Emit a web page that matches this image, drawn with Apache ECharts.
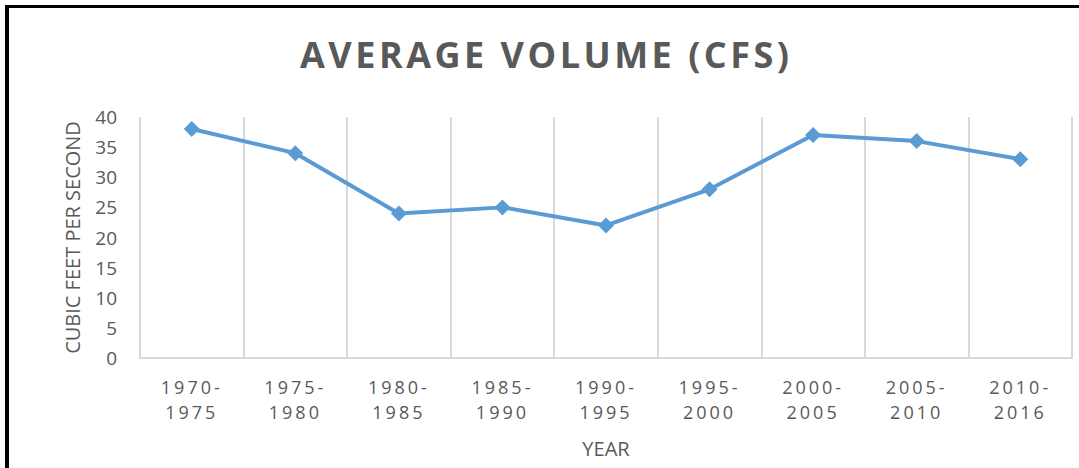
<!DOCTYPE html>
<html>
<head>
<meta charset="utf-8">
<title>Average Volume (CFS)</title>
<script src="https://cdn.jsdelivr.net/npm/echarts@6/dist/echarts.min.js"></script>
<style>
    html, body { margin: 0; padding: 0; background: #fff; }
    #chart { width: 1079px; height: 468px; }
    #frame {
        position: absolute; left: 5px; top: 5px; right: -10px; bottom: -10px;
        border-left: 4px solid #000; border-top: 3px solid #000;
        pointer-events: none;
    }
</style>
</head>
<body>
<div id="chart"></div>
<div id="frame"></div>
<script>
var periods = ['1970-\n1975', '1975-\n1980', '1980-\n1985', '1985-\n1990', '1990-\n1995',
               '1995-\n2000', '2000-\n2005', '2005-\n2010', '2010-\n2016'];
var avgVolume = [38, 34, 24, 25, 22, 28, 37, 36, 33];
var yTicks = [0, 5, 10, 15, 20, 25, 30, 35, 40];

var textColor = '#595959';
var myChart = echarts.init(document.getElementById('chart'), null, { renderer: 'svg' });

var option = {
    animation: false,
    title: {
        text: 'AVERAGE VOLUME (CFS)',
        left: 295,
        top: 31,
        textStyle: {
            fontFamily: 'Open Sans',
            fontWeight: 'bold',
            fontSize: 36,
            color: textColor
        }
    },
    grid: {
        left: 140,
        right: 7,
        top: 117,
        bottom: 110
    },
    xAxis: {
        type: 'category',
        data: periods,
        name: 'YEAR',
        nameLocation: 'middle',
        nameGap: 80,
        nameTextStyle: {
            fontFamily: 'Open Sans',
            fontSize: 20,
            color: textColor
        },
        axisLine: {
            lineStyle: { color: '#d9d9d9', width: 2 }
        },
        axisTick: { show: false },
        axisLabel: {
            margin: 16,
            fontFamily: 'Open Sans',
            fontSize: 18,
            lineHeight: 25,
            color: textColor
        },
        splitLine: {
            show: true,
            lineStyle: { color: '#d9d9d9', width: 2 }
        }
    },
    yAxis: {
        type: 'value',
        min: yTicks[0],
        max: yTicks[yTicks.length - 1],
        interval: yTicks[1] - yTicks[0],
        name: 'CUBIC FEET PER SECOND',
        nameLocation: 'middle',
        nameGap: 58,
        nameTextStyle: {
            fontFamily: 'Open Sans',
            fontSize: 20,
            color: textColor
        },
        axisLine: { show: false },
        axisTick: { show: false },
        splitLine: { show: false },
        axisLabel: {
            margin: 23,
            fontFamily: 'Open Sans',
            fontSize: 19,
            color: textColor
        }
    },
    series: [
        {
            type: 'line',
            data: avgVolume,
            symbol: 'diamond',
            symbolSize: 16,
            lineStyle: { color: '#5b9bd5', width: 4 },
            itemStyle: { color: '#5b9bd5' }
        }
    ]
};

myChart.setOption(option);

// spread the letters of the title and year labels like the original
function spreadLetters() {
    var texts = document.querySelectorAll('#chart text');
    for (var i = 0; i < texts.length; i++) {
        var t = texts[i].textContent;
        if (t === option.title.text) {
            texts[i].style.letterSpacing = '3.5px';
        } else if (/^\d{4}-?$/.test(t)) {
            texts[i].style.letterSpacing = '3px';
        }
    }
}
myChart.on('finished', spreadLetters);
spreadLetters();
setTimeout(spreadLetters, 50);
</script>
</body>
</html>
